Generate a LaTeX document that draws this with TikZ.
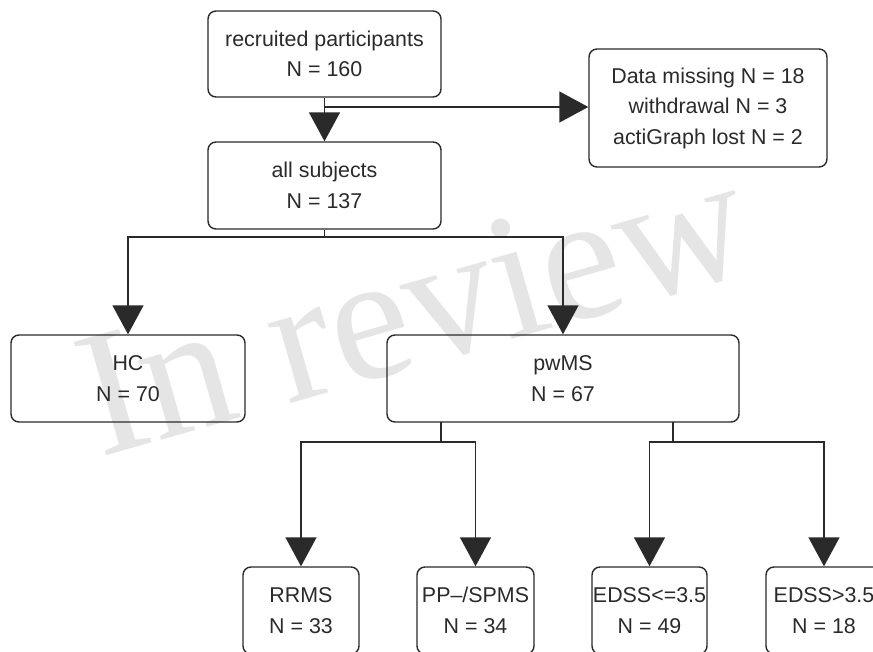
\documentclass[tikz,border=0pt]{standalone}
\usepackage{fontspec}
\setmainfont{Liberation Sans}
\newfontfamily\wmfont{Liberation Serif}
\usetikzlibrary{arrows.meta}
\definecolor{ink}{HTML}{2A2A2A}
\begin{document}
\begin{tikzpicture}[x=1pt,y=1pt,
  box/.style={draw=ink, line width=1.4pt, rounded corners=8pt, rectangle,
    align=center, text=ink, inner sep=0pt,
    font=\fontsize{21.4}{30.5}\selectfont},
  link/.style={draw=ink, line width=1.4pt},
  arr/.style={link, -{Triangle[width=31pt,length=29pt]}}]
\useasboundingbox (0,0) rectangle (873,-651);
\clip (0,0) rectangle (873,-651);
% watermark
\node[rotate=16, anchor=base west, text=black!10, inner sep=0pt,
  font=\fontsize{180}{180}\selectfont\wmfont] (wm) at (100,-458) {In review};
% boxes
\node[box, minimum width=233pt, minimum height=86pt] (A) at (324.5,-54) {recruited participants\\N = 160};
\node[box, minimum width=233pt, minimum height=87pt] (B) at (324.5,-185.5) {all subjects\\N = 137};
\node[box, minimum width=238pt, minimum height=118pt] (C) at (708,-108) {Data missing N = 18\\withdrawal N = 3\\actiGraph lost N = 2};
\node[box, minimum width=234pt, minimum height=87pt] (HC) at (128,-378.5) {HC\\N = 70};
\node[box, minimum width=352pt, minimum height=87pt] (PW) at (563,-378.5) {pwMS\\N = 67};
\node[box, minimum width=116pt, minimum height=87pt] (RR) at (301,-610.5) {RRMS\\N = 33};
\node[box, minimum width=117pt, minimum height=87pt] (PP) at (475.5,-610.5) {PP--/SPMS\\N = 34};
\node[box, minimum width=115pt, minimum height=87pt] (E1) at (649.5,-610.5) {EDSS<=3.5\\N = 49};
\node[box, minimum width=116pt, minimum height=87pt] (E2) at (824,-610.5) {EDSS>3.5\\N = 18};
% connectors
\draw[arr] (A.south) -- (B.north);
\coordinate (ja) at (324.5,-107);
\draw[arr] (ja) -- (ja -| C.west);
\coordinate (jb) at (324.5,-237);
\draw[link] (B.south) -- (jb);
\draw[arr] (jb) -| (HC.north);
\draw[arr] (jb) -| (PW.north);
\coordinate (s1) at (441,-422);
\coordinate (j1) at (441,-442);
\draw[link] (s1) -- (j1);
\draw[arr] (j1) -| (RR.north);
\draw[arr] (j1) -| (PP.north);
\coordinate (s2) at (673,-422);
\coordinate (j2) at (673,-442);
\draw[link] (s2) -- (j2);
\draw[arr] (j2) -| (E1.north);
\draw[arr] (j2) -| (E2.north);
\end{tikzpicture}
\end{document}
